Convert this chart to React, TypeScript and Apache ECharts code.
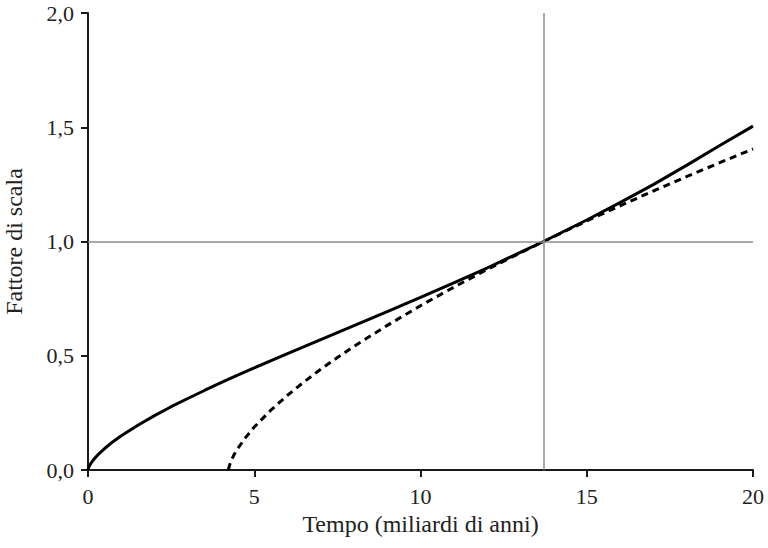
import React, { useEffect, useRef } from "react";
import * as echarts from "echarts";

// Tempo (miliardi di anni) vs fattore di scala — curva continua
const solidTime = [0, 0.02, 0.05, 0.1, 0.2, 0.35, 0.5, 0.75, 1, 1.5, 2, 2.5, 3, 3.5, 4, 4.5, 5, 6, 7, 8, 9, 10, 11, 12, 13, 13.7, 15, 16, 17, 18, 19, 20];
const solidScale = [0, 0.011, 0.02, 0.032, 0.051, 0.074, 0.094, 0.124, 0.15, 0.196, 0.238, 0.277, 0.313, 0.348, 0.382, 0.415, 0.447, 0.509, 0.571, 0.632, 0.693, 0.755, 0.819, 0.884, 0.952, 1.0, 1.094, 1.17, 1.249, 1.333, 1.42, 1.505];

// curva tratteggiata
const dashTime = [4.22, 4.25, 4.3, 4.4, 4.5, 4.75, 5, 5.5, 6, 6.5, 7, 7.5, 8, 9, 10, 11, 12, 13, 13.7, 15, 16, 17, 18, 19, 20];
const dashScale = [0, 0.017, 0.038, 0.069, 0.093, 0.144, 0.188, 0.262, 0.327, 0.386, 0.441, 0.492, 0.541, 0.633, 0.719, 0.8, 0.877, 0.95, 1.0, 1.09, 1.156, 1.221, 1.284, 1.345, 1.405];

const xTicks = { min: 0, max: 20, interval: 5 };
const yTicks = { min: 0, max: 2, interval: 0.5 };
const refTime = 13.7;
const refScale = 1;

const xTitle = "Tempo (miliardi di anni)";
const yTitle = "Fattore di scala";

const FONT = "'Liberation Serif', 'DejaVu Serif', serif";

export default function App() {
  const ref = useRef<HTMLDivElement>(null);
  useEffect(() => {
    document.body.style.margin = "0";
    const chart = echarts.init(ref.current!, null, { renderer: "svg" });
    const axisLine = { lineStyle: { color: "#1a1a1a", width: 2 } };
    const axisTick = { length: 7, lineStyle: { color: "#1a1a1a", width: 2 } };
    chart.setOption({
      animation: false,
      backgroundColor: "#ffffff",
      grid: {
        left: 88,
        right: 15,
        top: 13,
        bottom: 78,
        containLabel: false,
        outerBoundsMode: "none",
      },
      xAxis: {
        type: "value",
        min: xTicks.min,
        max: xTicks.max,
        interval: xTicks.interval,
        axisLine,
        axisTick,
        splitLine: { show: false },
        axisLabel: { color: "#222", fontFamily: FONT, fontSize: 22, margin: 15 },
        name: xTitle,
        nameLocation: "middle",
        nameGap: 42,
        nameTextStyle: { color: "#222", fontFamily: FONT, fontSize: 24 },
      },
      yAxis: {
        type: "value",
        min: yTicks.min,
        max: yTicks.max,
        interval: yTicks.interval,
        axisLine,
        axisTick,
        splitLine: { show: false },
        axisLabel: {
          color: "#222",
          fontFamily: FONT,
          fontSize: 22,
          margin: 14,
          formatter: (v: number) => v.toFixed(1).replace(".", ","),
        },
        name: yTitle,
        nameLocation: "middle",
        nameGap: 62,
        nameTextStyle: { color: "#222", fontFamily: FONT, fontSize: 24 },
      },
      series: [
        {
          type: "line",
          data: [],
          z: 1,
          markLine: {
            silent: true,
            symbol: "none",
            label: { show: false },
            lineStyle: { color: "#8c8c8c", width: 1.5, type: "solid" },
            data: [{ xAxis: refTime }, { yAxis: refScale }],
          },
        },
        {
          type: "line",
          data: solidTime.map((t, i) => [t, solidScale[i]]),
          showSymbol: false,
          smooth: false,
          z: 3,
          lineStyle: { color: "#000", width: 3 },
        },
        {
          type: "line",
          data: dashTime.map((t, i) => [t, dashScale[i]]),
          showSymbol: false,
          smooth: false,
          z: 3,
          lineStyle: { color: "#000", width: 3, type: [7, 5] },
        },
      ],
    });
    return () => chart.dispose();
  }, []);
  return (
    <div
      ref={ref}
      style={{ position: "fixed", left: 0, top: 0, width: 768, height: 548 }}
    />
  );
}
